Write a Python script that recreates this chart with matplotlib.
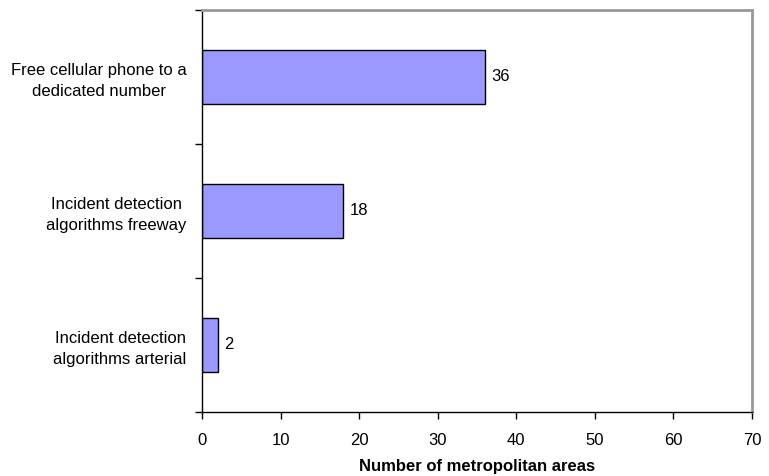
import matplotlib
matplotlib.use("Agg")
import matplotlib.pyplot as plt

categories = ["Free cellular phone to a\ndedicated number",
              "Incident detection\nalgorithms freeway",
              "Incident detection\nalgorithms arterial"]
values = [36, 18, 2]
xticks = [0, 10, 20, 30, 40, 50, 60, 70]

plt.rcParams['font.family'] = ['Liberation Sans', 'DejaVu Sans']
FS = 12

fig = plt.figure(figsize=(7.69, 4.76), dpi=100)
ax = fig.add_axes([202/769, 1-411.7/476, (752-202)/769, (411.7-10)/476])

pos = [2, 1, 0]
ax.barh(pos, values, height=0.4, color='#9999FF', edgecolor='black', linewidth=1.0)
for p, v in zip(pos, values):
    ax.text(v + 0.8, p, str(v), va='center', ha='left', fontsize=FS)

ax.set_xlim(0, 70)
ax.set_ylim(-0.5, 2.5)
ax.set_xticks(xticks)
ax.set_xticklabels([str(t) for t in xticks], fontsize=FS)
ax.set_yticks([-0.5, 0.5, 1.5, 2.5])
ax.set_yticklabels([])
ax.set_yticks(pos, minor=True)
ax.set_yticklabels(categories, minor=True, fontsize=FS, multialignment='center', linespacing=1.45)
ax.tick_params(axis='y', which='minor', length=0, pad=11)
ax.tick_params(axis='y', which='major', length=5, width=1, color='black')
ax.tick_params(axis='x', length=5, width=1, pad=10)
ax.set_xlabel("Number of metropolitan areas", fontsize=FS, fontweight='bold', labelpad=8)

for s in ['left', 'bottom']:
    ax.spines[s].set_color('black')
    ax.spines[s].set_linewidth(1.0)
for s in ['top', 'right']:
    ax.spines[s].set_color('#999999')
    ax.spines[s].set_linewidth(2.0)

fig.savefig("out.png", dpi=100)
